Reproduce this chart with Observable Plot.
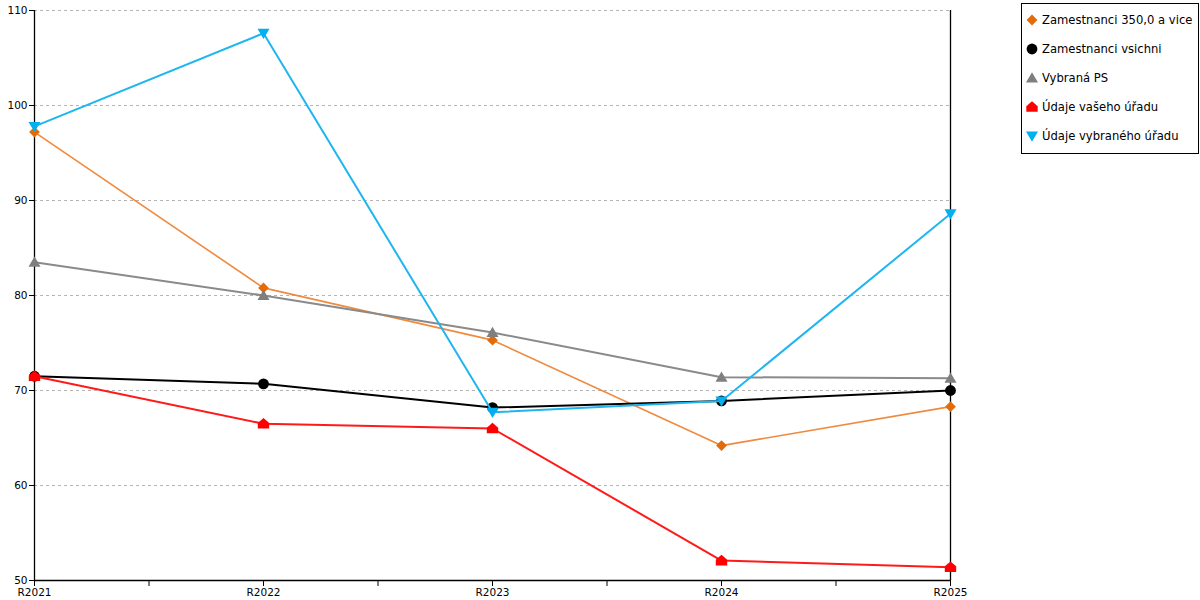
<!DOCTYPE html>
<html>
<head>
<meta charset="utf-8">
<script src="https://cdn.jsdelivr.net/npm/d3@7"></script>
<script src="https://cdn.jsdelivr.net/npm/@observablehq/plot@0.6"></script>
<style>
  html, body { margin: 0; padding: 0; background: #fff; }
  #wrap { position: relative; width: 1200px; height: 600px; font-family: "DejaVu Sans", Verdana, sans-serif; }
  #chart { position: absolute; left: 0; top: 0; }
  #legend { position: absolute; left: 1021px; top: 3px; width: 176px; height: 149px; border: 1px solid #000; background: #fff; }
  .item { position: absolute; left: 0; height: 20px; display: flex; align-items: center; font-size: 11.6px; color: #000; white-space: nowrap; }
  .item svg { margin-left: 3px; margin-right: 3px; }
</style>
</head>
<body>
<div id="wrap">
  <div id="chart"></div>
  <div id="legend"></div>
</div>
<script>
// ---- Data ----
const categories = ["R2021", "R2022", "R2023", "R2024", "R2025"];
const zam350 = [97.2, 80.8, 75.3, 64.2, 68.3];
const zamVsichni = [71.5, 70.7, 68.2, 68.9, 70.0];
const vybranaPS = [83.5, 80.0, 76.1, 71.4, 71.3];
const vasUrad = [71.5, 66.5, 66.0, 52.1, 51.4];
const vybranyUrad = [97.8, 107.6, 67.7, 68.9, 88.6];
const seriesNames = ["Zamestnanci 350,0 a vice", "Zamestnanci vsichni", "Vybraná PS", "Údaje vašeho úřadu", "Údaje vybraného úřadu"];
const yTicks = [50, 60, 70, 80, 90, 100, 110];

// ---- Custom symbols ----
const rOf = size => Math.sqrt(size / Math.PI);
const symDiamond = { draw(c, size) { const r = rOf(size) * 0.9; c.moveTo(0, -r); c.lineTo(r, 0); c.lineTo(0, r); c.lineTo(-r, 0); c.closePath(); } };
const symCircle = { draw(c, size) { const r = rOf(size) * 0.9; c.moveTo(r, 0); c.arc(0, 0, r, 0, 2 * Math.PI); } };
const symTriUp = { draw(c, size) { const r = rOf(size); c.moveTo(0, -r * 0.95); c.lineTo(r, r * 0.75); c.lineTo(-r, r * 0.75); c.closePath(); } };
const symTriDown = { draw(c, size) { const r = rOf(size); c.moveTo(0, r * 0.95); c.lineTo(r, -r * 0.75); c.lineTo(-r, -r * 0.75); c.closePath(); } };
const symHouse = { draw(c, size) { const r = rOf(size) * 0.95; c.moveTo(0, -r); c.lineTo(r, -r * 0.15); c.lineTo(r, r * 0.85); c.lineTo(-r, r * 0.85); c.lineTo(-r, -r * 0.15); c.closePath(); } };

const styles = [
  { values: zam350, line: "#ef8a3e", mark: "#e36c0a", symbol: symDiamond, w: 1.6 },
  { values: zamVsichni, line: "#000000", mark: "#000000", symbol: symCircle, w: 2 },
  { values: vybranaPS, line: "#8a8a8a", mark: "#7f7f7f", symbol: symTriUp, w: 2 },
  { values: vasUrad, line: "#ff1a1a", mark: "#ff0000", symbol: symHouse, w: 2 },
  { values: vybranyUrad, line: "#1fb6ef", mark: "#00b0f0", symbol: symTriDown, w: 2 }
];

const marks = [
  Plot.gridY(yTicks.slice(1), { stroke: "#b4b4b4", strokeOpacity: 1, strokeDasharray: "3,3" }),
  Plot.ruleX([0, categories.length - 1], { stroke: "#000", strokeWidth: 1.3 }),
  Plot.ruleY([yTicks[0]], { stroke: "#000", strokeWidth: 1.3 })
];
styles.forEach((s, k) => {
  const rows = s.values.map((v, i) => ({ i, v, name: seriesNames[k] }));
  marks.push(Plot.line(rows, { x: "i", y: "v", stroke: s.line, strokeWidth: s.w }));
  marks.push(Plot.dot(rows, { x: "i", y: "v", fill: s.mark, stroke: "none", symbol: () => s.symbol, r: 6 }));
});
marks.push(Plot.axisY({ ticks: yTicks, tickSize: 5, tickPadding: 2, fontSize: 10.5, stroke: "#000" }));
marks.push(Plot.axisX({
  ticks: d3.range(0, categories.length - 0.99, 0.5),
  tickSize: 6, tickPadding: 2, fontSize: 10.5,
  tickFormat: d => Number.isInteger(d) ? categories[d] : ""
}));

const chart = Plot.plot({
  width: 1000,
  height: 600,
  marginLeft: 34,
  marginRight: 50,
  marginTop: 10,
  marginBottom: 20,
  style: { fontFamily: "DejaVu Sans, Verdana, sans-serif", fontSize: "10.5px", color: "#000", background: "#fff" },
  x: { type: "linear", domain: [0, categories.length - 1], label: null },
  y: { domain: [yTicks[0], yTicks[yTicks.length - 1]], label: null },
  symbol: { type: "identity" },
  marks
});
document.getElementById("chart").appendChild(chart);

// ---- Legend ----
const legend = document.getElementById("legend");
styles.forEach((s, k) => {
  const div = document.createElement("div");
  div.className = "item";
  div.style.top = (6 + k * 29) + "px";
  const svg = d3.create("svg").attr("width", 14).attr("height", 14);
  svg.append("path")
    .attr("transform", "translate(7,7)")
    .attr("d", d3.symbol(s.symbol, Math.PI * 36)())
    .attr("fill", s.mark);
  div.appendChild(svg.node());
  const span = document.createElement("span");
  span.textContent = seriesNames[k];
  div.appendChild(span);
  legend.appendChild(div);
});
</script>
</body>
</html>
